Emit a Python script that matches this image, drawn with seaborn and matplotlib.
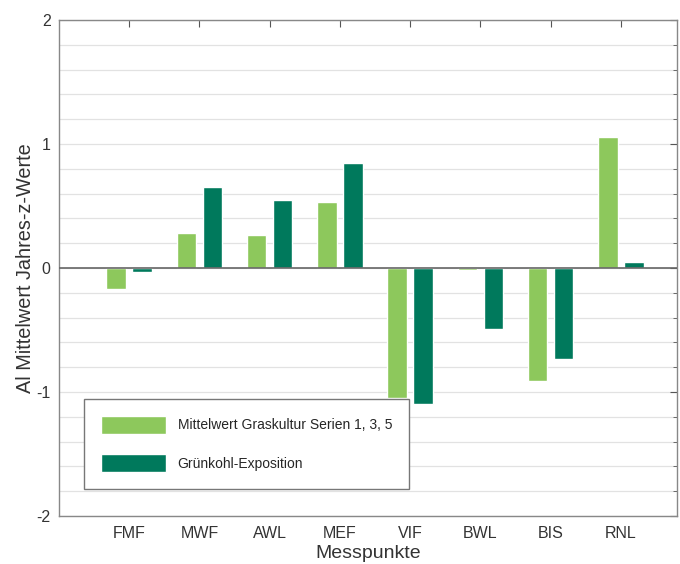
import matplotlib
matplotlib.use("Agg")
import matplotlib.pyplot as plt
import seaborn as sns
import pandas as pd
from matplotlib.ticker import MultipleLocator

# data
sites = ["FMF", "MWF", "AWL", "MEF", "VIF", "BWL", "BIS", "RNL"]
gras = [-0.17, 0.28, 0.27, 0.53, -1.05, -0.02, -0.91, 1.06]
kohl = [-0.03, 0.65, 0.55, 0.85, -1.10, -0.49, -0.73, 0.05]
series = ["Mittelwert Graskultur Serien 1, 3, 5", "Grünkohl-Exposition"]
colors = ["#8dc85c", "#00795c"]

df = pd.DataFrame({
    "site": sites * 2,
    "value": gras + kohl,
    "series": [series[0]] * len(sites) + [series[1]] * len(sites),
})

sns.set_style("white")
plt.rcParams["font.family"] = ["Liberation Sans", "DejaVu Sans"]
plt.rcParams["axes.unicode_minus"] = False

fig = plt.figure(figsize=(6.8, 5.64), dpi=100)
ax = fig.add_axes([59 / 680, 48 / 564, 618 / 680, 496 / 564])

sns.barplot(data=df, x="site", y="value", hue="series", palette=colors,
            width=0.74, gap=0.25, saturation=1, ax=ax, zorder=3)

ax.set_ylim(-2, 2)
ax.set_xlim(-1, 7.8)
ax.yaxis.set_major_locator(MultipleLocator(1))
ax.yaxis.set_minor_locator(MultipleLocator(0.2))
ax.grid(which="both", axis="y", color="#e2e2e2", lw=0.9, zorder=0)
ax.axhline(0, color="#666666", lw=1.2, zorder=4)

ax.tick_params(which="both", direction="in", top=True, right=True,
               colors="#555555", labelcolor="#333333")
ax.tick_params(which="major", length=5, labelsize=11.5, pad=7)
ax.tick_params(axis="y", which="major", pad=6)
ax.tick_params(which="minor", length=3)
for s in ax.spines.values():
    s.set_color("#888888")
    s.set_linewidth(1)

ax.set_xlabel("Messpunkte", fontsize=14, color="#333333", labelpad=3)
ax.set_ylabel("Al Mittelwert Jahres-z-Werte", fontsize=14.3, color="#333333", labelpad=1)

handles, labels = ax.get_legend_handles_labels()
leg = ax.legend(handles, labels, loc="lower left",
                bbox_to_anchor=(84 / 680, 75 / 564), bbox_transform=fig.transFigure,
                fontsize=10, handlelength=4.7, handleheight=1.6, labelspacing=1.5,
                borderpad=1.2, handletextpad=0.85, fancybox=False, framealpha=1,
                edgecolor="#777777", borderaxespad=0)
leg.get_frame().set_linewidth(1)
leg.set_zorder(5)

fig.savefig("out.png", dpi=100)
